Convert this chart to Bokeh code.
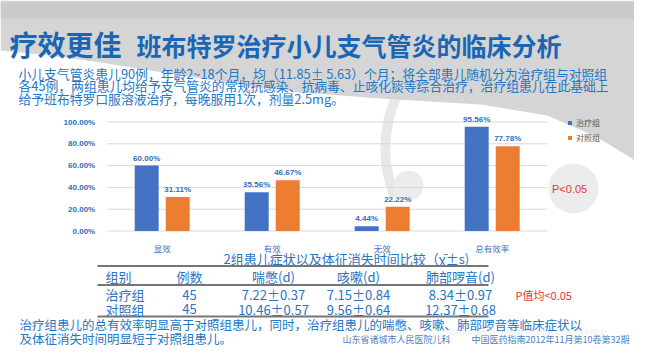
import numpy as np
from bokeh.plotting import figure
from bokeh.models import Range1d, ColumnDataSource, LinearAxis, FixedTicker, Legend, LegendItem
from bokeh.transform import dodge
from bokeh.core.properties import value
from bokeh.embed import file_html
from bokeh.resources import INLINE

# ---------------- data ----------------
categories = ["显效", "有效", "无效", "总有效率"]
treatment = [60.00, 35.56, 4.44, 95.56]
control = [31.11, 46.67, 22.22, 77.78]
series_names = ["治疗组", "对照组"]
y_ticks = [0, 20, 40, 60, 80, 100]
y_tick_labels = ["0.00%", "20.00%", "40.00%", "60.00%", "80.00%", "100.00%"]

table_title = "2组患儿症状以及体征消失时间比较（χ̄±s)"
table_header = ["组别", "例数", "喘憋(d)", "咳嗽(d)", "肺部啰音(d)"]
groups = ["治疗组", "对照组"]
counts = ["45", "45"]
wheeze = ["7.22±0.37", "10.46±0.57"]
cough = ["7.15±0.84", "9.56±0.64"]
rales = ["8.34±0.97", "12.37±0.68"]

title_main = "疗效更佳"
title_sub = "班布特罗治疗小儿支气管炎的临床分析"
intro_lines = [
    "小儿支气管炎患儿90例，年龄2~18个月，均（11.85± 5.63）个月；将全部患儿随机分为治疗组与对照组",
    "各45例，两组患儿均给予支气管炎的常规抗感染、抗病毒、止咳化痰等综合治疗，治疗组患儿在此基础上",
    "给予班布特罗口服溶液治疗，每晚服用1次，剂量2.5mg。",
]
conclusion_lines = [
    "治疗组患儿的总有效率明显高于对照组患儿，同时，治疗组患儿的喘憋、咳嗽、肺部啰音等临床症状以",
    "及体征消失时间明显短于对照组患儿。",
]
citation_left = "山东省诸城市人民医院儿科"
citation_right = "中国医药指南2012年11月第10卷第32期"
p_chart = "P<0.05"
p_table = "P值均<0.05"
watermark = "Bambuterol Hydrochloride Oral Solution"

# ---------------- layout ----------------
W, H = 634, 346
OX, OY = 0, 0          # slide coords of canvas origin
CJK = "Noto Sans CJK SC"
LAT = "Liberation Sans"

# chart plot area in slide pixels
PL, PR = 106.7, 546.7
Y0, Y100 = 230.5, 121.5
n = len(categories)
xu = (PR - PL) / n
yu = (Y0 - Y100) / 100.0
cat_range = Range1d(-0.5 - (PL - OX) / xu, n - 0.5 + (OX + W - PR) / xu)
pct_range = Range1d(0 - (OY + H - Y0) / yu, 100 + (Y100 - OY) / yu)

p = figure(width=W, height=H, x_range=Range1d(OX, OX + W), y_range=Range1d(OY + H, OY),
           x_axis_type=None, y_axis_type=None, output_backend="svg", toolbar_location=None,
           min_border=0, outline_line_color=None, background_fill_color="white",
           border_fill_color="white")
p.extra_x_ranges = {"cat": cat_range}
p.extra_y_ranges = {"pct": pct_range}

# ---------------- background ----------------
th = np.radians(np.linspace(158, 352, 240))
p.line(514 + 129 * np.cos(th), 148 + 129 * np.sin(th), line_color="#e8e8e8", line_width=10)
p.circle(x=[408, 573], y=[185, 188], radius=[15, 25], fill_color="#ececec", line_color=None)

bx = [0, 50, 100, 150, 200, 250, 300, 380, 480, 547, 597, 630, 650]
by = [50, 55, 62, 70, 78, 86, 92, 98, 104, 115, 137, 157, 172]
p.patch([0] + bx + [650], [0] + by + [0], fill_color="#d5d5d5", line_color=None)
p.patch([0, 650, 650, 0], [2, 2, 18, 18], fill_color="#cacaca", line_color=None)

p.text(x=[448], y=[331], text=[watermark], text_font=value(LAT), text_font_size="9px",
       text_color="#eeeeee", text_baseline="middle")

# ---------------- chart ----------------
src = ColumnDataSource(dict(
    idx=list(range(n)), treat=treatment, ctrl=control,
    treat_lbl=[f"{v:.2f}%" for v in treatment], ctrl_lbl=[f"{v:.2f}%" for v in control]))

p.segment(x0=-0.5, x1=n - 0.5, y0=y_ticks, y1=y_ticks, x_range_name="cat", y_range_name="pct",
          line_color="#d9d9d9", line_width=1)

off, bw = 0.141, 0.218
r1 = p.vbar(x=dodge("idx", -off), top="treat", width=bw, source=src, x_range_name="cat",
            y_range_name="pct", fill_color="#4472c4", line_color=None)
r2 = p.vbar(x=dodge("idx", off), top="ctrl", width=bw, source=src, x_range_name="cat",
            y_range_name="pct", fill_color="#ed7d31", line_color=None)
for xo, col in ((-off, "treat"), (off, "ctrl")):
    p.text(x=dodge("idx", xo), y=col, text=col + "_lbl", source=src, x_range_name="cat",
           y_range_name="pct", text_align="center", text_baseline="bottom", y_offset=-3,
           text_font=value(LAT), text_font_style="bold", text_font_size="8px",
           text_color="#2e6fba")

yaxis = LinearAxis(x_range_name="cat", y_range_name="pct", fixed_location=-0.5,
                   ticker=FixedTicker(ticks=y_ticks),
                   major_label_overrides=dict(zip(y_ticks, y_tick_labels)),
                   axis_line_color=None, major_tick_line_color=None, minor_tick_line_color=None,
                   major_label_standoff=6, major_label_text_font=LAT,
                   major_label_text_font_style="bold", major_label_text_font_size="8px",
                   major_label_text_color="#2e6fba")
p.add_layout(yaxis, "left")
xaxis = LinearAxis(x_range_name="cat", y_range_name="pct", fixed_location=0,
                   ticker=FixedTicker(ticks=list(range(n))),
                   major_label_overrides={i: c for i, c in enumerate(categories)},
                   axis_line_color=None, major_tick_line_color=None, minor_tick_line_color=None,
                   major_label_standoff=5, major_label_text_font=CJK,
                   major_label_text_font_size="8.5px", major_label_text_color="#3a76bf")
p.add_layout(xaxis, "below")

legend = Legend(items=[LegendItem(label=series_names[0], renderers=[r1]),
                       LegendItem(label=series_names[1], renderers=[r2])],
                location=(567, 203), orientation="vertical", padding=0, margin=0, spacing=4,
                glyph_width=5, glyph_height=5, label_standoff=4, label_height=10,
                label_text_font=CJK, label_text_font_size="8px", label_text_color="#595959",
                background_fill_alpha=0, border_line_color=None)
p.add_layout(legend)

# ---------------- texts ----------------
def txt(x, y, s, size, color, font=CJK, bold=False, align="left"):
    p.text(x=x, y=y, text=s, text_font=value(font), text_font_size=f"{size}px",
           text_font_style="bold" if bold else "normal", text_color=color,
           text_align=align, text_baseline="middle")

txt([9], [43], [title_main], 28, "#1a66b4", bold=True)
txt([136], [44], [title_sub], 25, "#1a66b4", bold=True)
txt([18] * 3, [73, 85.4, 97.6], intro_lines, 12.8, "#2277c7")

txt([551.5], [188], [p_chart], 11, "#e53935", font=LAT)

# table
txt([223], [257.5], [table_title], 13, "#2a74c2")
p.segment(x0=[97] * 3, x1=[488] * 3, y0=[265.5, 284.5, 316], y1=[265.5, 284.5, 316],
          line_color="#767676", line_width=2)
col_x = [189, 273, 358, 460]
txt([105], [275.5], [table_header[0]], 13, "#2a74c2")
txt(col_x, [275.5] * 4, table_header[1:], 13, "#2a74c2", align="center")
row_y = [294, 308.5]
txt([105] * 2, row_y, groups, 13, "#2a74c2")
for cx, colv in zip(col_x, (counts, wheeze, cough, rales)):
    txt([cx] * 2, row_y, colv, 13, "#2a74c2", align="center")
txt([515], [294], [p_table], 11, "#e53935")

txt([19] * 2, [324, 337.5], conclusion_lines, 12.5, "#2277c7")
txt([342], [338.5], [citation_left], 9, "#4a80c0")
txt([629], [338.5], [citation_right], 9, "#4a80c0", align="right")

open("out.html", "w").write(file_html(p, INLINE))
